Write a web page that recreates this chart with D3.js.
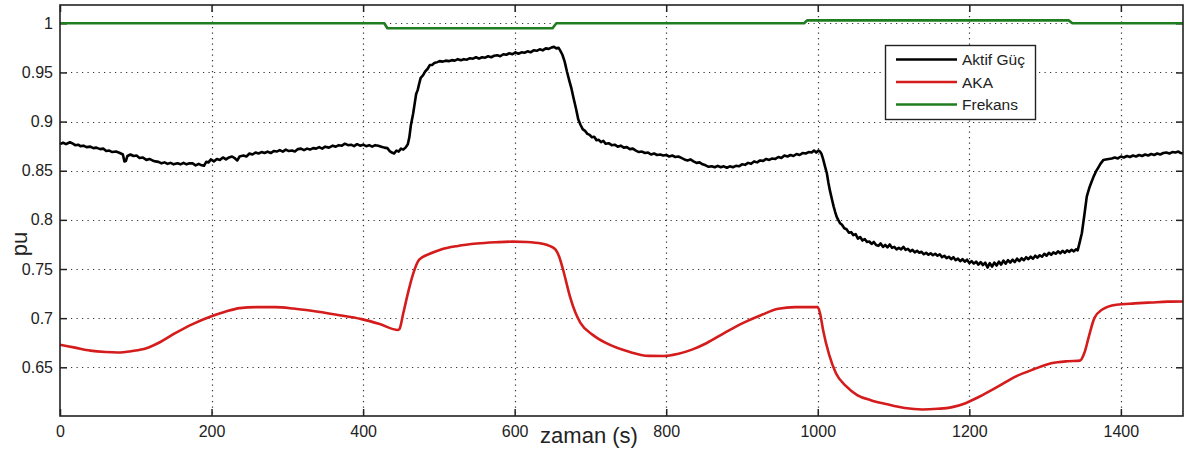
<!DOCTYPE html>
<html><head><meta charset="utf-8">
<script src="https://cdn.jsdelivr.net/npm/d3@7"></script>
<style>
html,body{margin:0;padding:0;background:#fff;}
svg{display:block;font-family:"Liberation Sans",Arial,sans-serif;}
</style></head>
<body><svg id="chart" width="1186" height="455"></svg>
<script>
// ---- data ----
const xTicks = [0, 200, 400, 600, 800, 1000, 1200, 1400];
const yTicks = [0.65, 0.7, 0.75, 0.8, 0.85, 0.9, 0.95, 1];
const yTickLabels = ["0.65", "0.7", "0.75", "0.8", "0.85", "0.9", "0.95", "1"];
const seriesNames = ["Aktif Güç", "AKA", "Frekans"];
const xLabel = "zaman (s)";
const yLabel = "pu";

const aktifGuc = [[0,0.877],[4,0.8785],[8,0.877],[13,0.879],[17,0.8775],[20,0.876],[24,0.8765],[27,0.875],[31,0.8755],[35,0.874],[40,0.8745],[44,0.873],[48,0.8735],[53,0.872],[57,0.8725],[61,0.870],[65,0.8705],[69,0.869],[74,0.8695],[79,0.868],[83,0.8665],[85,0.8595],[87,0.860],[89,0.865],[93,0.8665],[97,0.865],[101,0.8655],[105,0.863],[109,0.8635],[114,0.861],[118,0.862],[122,0.8605],[126,0.8595],[130,0.859],[134,0.8575],[138,0.8585],[142,0.857],[146,0.858],[150,0.8565],[155,0.8575],[159,0.8565],[163,0.858],[167,0.8565],[171,0.8575],[175,0.8575],[179,0.8555],[183,0.857],[187,0.8555],[190,0.855],[193,0.859],[196,0.8585],[199,0.8615],[203,0.8595],[207,0.862],[211,0.861],[215,0.8635],[219,0.8615],[223,0.8635],[227,0.8645],[231,0.8625],[234,0.8605],[237,0.8645],[242,0.8655],[246,0.8645],[250,0.8675],[254,0.8665],[258,0.8685],[262,0.8675],[266,0.869],[270,0.868],[274,0.8695],[278,0.868],[282,0.870],[286,0.8695],[290,0.871],[294,0.8695],[298,0.8715],[302,0.870],[306,0.8705],[310,0.8695],[314,0.872],[318,0.8725],[322,0.871],[326,0.8725],[330,0.8715],[334,0.873],[338,0.8725],[342,0.874],[346,0.8725],[350,0.8745],[355,0.8735],[360,0.8755],[364,0.8745],[368,0.876],[372,0.8755],[376,0.8775],[380,0.876],[384,0.8765],[388,0.875],[392,0.877],[396,0.8755],[400,0.8765],[404,0.875],[408,0.876],[412,0.8745],[416,0.876],[420,0.8755],[424,0.8745],[428,0.8735],[432,0.873],[435,0.870],[438,0.8685],[441,0.8675],[444,0.8705],[447,0.8695],[450,0.8725],[453,0.8715],[456,0.8735],[459,0.877],[461,0.884],[463,0.896],[466,0.908],[468,0.918],[470,0.928],[472,0.932],[474,0.9385],[476,0.9445],[479,0.947],[482,0.951],[485,0.9535],[488,0.9575],[491,0.9575],[494,0.9595],[498,0.9605],[501,0.9615],[505,0.961],[509,0.962],[513,0.9615],[517,0.9625],[521,0.962],[525,0.9635],[529,0.9625],[533,0.9635],[537,0.963],[541,0.9645],[545,0.964],[549,0.9655],[553,0.964],[557,0.9655],[561,0.965],[565,0.9665],[569,0.9655],[573,0.967],[577,0.9675],[581,0.9665],[585,0.9685],[589,0.968],[593,0.9695],[597,0.9685],[601,0.9705],[605,0.969],[609,0.9705],[613,0.970],[617,0.9715],[621,0.9705],[625,0.9725],[629,0.972],[633,0.9735],[637,0.9725],[641,0.9745],[645,0.974],[649,0.9755],[652,0.976],[655,0.9745],[658,0.975],[660,0.9725],[663,0.968],[666,0.961],[669,0.951],[672,0.942],[675,0.9335],[678,0.923],[681,0.913],[684,0.902],[687,0.8965],[690,0.892],[693,0.8905],[696,0.8875],[699,0.8865],[702,0.884],[705,0.8845],[708,0.881],[711,0.8815],[714,0.879],[717,0.8805],[720,0.8775],[724,0.878],[728,0.876],[732,0.8765],[736,0.8745],[740,0.8755],[744,0.8735],[748,0.874],[752,0.872],[756,0.8725],[760,0.8705],[764,0.869],[768,0.8695],[772,0.868],[776,0.8685],[780,0.8665],[784,0.8675],[788,0.866],[792,0.8665],[796,0.8655],[800,0.866],[804,0.8645],[808,0.8655],[812,0.864],[816,0.8645],[820,0.863],[824,0.8615],[828,0.8605],[832,0.8615],[836,0.8595],[840,0.858],[844,0.8585],[848,0.8565],[852,0.8555],[856,0.854],[860,0.8545],[864,0.8535],[868,0.855],[872,0.8535],[876,0.8545],[880,0.853],[884,0.8545],[888,0.8535],[892,0.855],[896,0.8545],[900,0.8565],[904,0.856],[908,0.858],[912,0.857],[916,0.8595],[920,0.8585],[924,0.8605],[928,0.86],[932,0.862],[936,0.861],[940,0.8625],[944,0.862],[948,0.864],[952,0.863],[956,0.8655],[960,0.8645],[964,0.866],[968,0.865],[972,0.867],[976,0.866],[980,0.868],[984,0.8675],[988,0.869],[992,0.8685],[995,0.8705],[998,0.8685],[1001,0.8705],[1003,0.8695],[1005,0.867],[1007,0.862],[1009,0.856],[1012,0.8474],[1014,0.838],[1016,0.830],[1019,0.82],[1021,0.8135],[1023,0.808],[1025,0.803],[1027,0.800],[1029.5,0.7965],[1032,0.795],[1035,0.7915],[1038,0.7905],[1041,0.787],[1044,0.7875],[1047,0.7845],[1050,0.7855],[1053,0.781],[1056,0.7825],[1059,0.779],[1062,0.7805],[1065,0.7775],[1068,0.778],[1071,0.7755],[1074,0.7775],[1077,0.7745],[1080,0.7735],[1083,0.776],[1086,0.7725],[1089,0.7745],[1092,0.772],[1095,0.775],[1098,0.7715],[1101,0.7725],[1104,0.770],[1107,0.7715],[1110,0.770],[1113,0.7725],[1116,0.7695],[1119,0.7705],[1122,0.768],[1125,0.7695],[1128,0.767],[1131,0.7685],[1134,0.7665],[1137,0.7675],[1140,0.765],[1143,0.7665],[1146,0.7645],[1149,0.766],[1152,0.764],[1155,0.7655],[1158,0.7635],[1161,0.765],[1164,0.762],[1167,0.7635],[1170,0.761],[1173,0.7625],[1176,0.760],[1179,0.762],[1182,0.759],[1185,0.7605],[1188,0.758],[1191,0.760],[1194,0.7575],[1197,0.7595],[1200,0.756],[1203,0.758],[1206,0.7555],[1209,0.7575],[1212,0.7545],[1215,0.757],[1218,0.754],[1221,0.7565],[1224,0.7515],[1227,0.756],[1230,0.7525],[1233,0.7565],[1236,0.7535],[1239,0.7575],[1242,0.7545],[1245,0.7585],[1248,0.7555],[1251,0.759],[1254,0.7565],[1257,0.7595],[1260,0.757],[1263,0.7605],[1266,0.758],[1269,0.761],[1272,0.759],[1275,0.762],[1278,0.760],[1281,0.7625],[1284,0.7605],[1287,0.7635],[1290,0.7615],[1293,0.764],[1296,0.7625],[1299,0.7655],[1302,0.7635],[1305,0.7665],[1308,0.7645],[1311,0.767],[1314,0.7655],[1317,0.768],[1320,0.766],[1323,0.7685],[1326,0.7665],[1329,0.769],[1332,0.7675],[1335,0.7695],[1338,0.768],[1341,0.770],[1343,0.769],[1345,0.775],[1348.5,0.7864],[1352,0.806],[1355,0.8237],[1357,0.829],[1359,0.834],[1361,0.838],[1364,0.844],[1367,0.849],[1370,0.853],[1373,0.857],[1377,0.861],[1380,0.8615],[1384,0.862],[1388,0.8625],[1392,0.8635],[1396,0.8625],[1400,0.8645],[1404,0.8635],[1408,0.865],[1412,0.864],[1416,0.8655],[1420,0.8645],[1424,0.866],[1428,0.865],[1432,0.8665],[1436,0.8655],[1440,0.867],[1444,0.866],[1448,0.8675],[1452,0.8665],[1456,0.868],[1460,0.8685],[1464,0.8675],[1468,0.869],[1472,0.8685],[1476,0.8695],[1479,0.868],[1482,0.8675]];

const aka = [[0,0.673],[20,0.670],[40,0.667],[60,0.6655],[76,0.665],[95,0.6665],[114,0.6694],[133,0.676],[152,0.6847],[175,0.694],[199,0.7017],[218,0.7065],[237,0.7102],[260,0.7112],[284,0.7112],[308,0.7098],[332,0.7075],[365,0.7035],[398,0.699],[422,0.694],[446,0.688],[448,0.689],[453,0.705],[460,0.728],[466,0.745],[474,0.7595],[488,0.7655],[502,0.7697],[525,0.7735],[550,0.7759],[575,0.7772],[597,0.7779],[616,0.7775],[635,0.7759],[646,0.7735],[654,0.7697],[659,0.762],[664,0.749],[673,0.722],[680,0.706],[687,0.695],[703,0.683],[721,0.6745],[750,0.666],[777,0.6616],[797,0.6615],[815,0.6636],[834,0.668],[853,0.6745],[877,0.685],[901,0.695],[925,0.703],[948,0.7095],[970,0.7112],[1000,0.7112],[1003,0.705],[1007,0.688],[1015,0.663],[1024,0.644],[1037,0.631],[1052,0.6218],[1070,0.6165],[1090,0.6126],[1115,0.6085],[1138,0.6071],[1158,0.6078],[1176,0.6092],[1195,0.6135],[1213,0.620],[1237,0.630],[1261,0.6405],[1285,0.648],[1308,0.6541],[1330,0.6562],[1346,0.6568],[1352,0.665],[1358,0.682],[1365,0.700],[1375,0.7085],[1394,0.7136],[1418,0.715],[1441,0.716],[1462,0.7168],[1482,0.717]];

const frekans = [[0,1],[428,1],[432,0.995],[650,0.995],[655,1],[982,1],[986,1.003],[1331,1.003],[1336,1],[1482,1]];

const colors = ["#000000", "#d41c1c", "#1f7d1f"];

// ---- layout ----
const svg = d3.select("#chart");
const L = 60, R = 1183, T = 5, B = 416;
const x = d3.scaleLinear().domain([0, 1482]).range([L, R]);
const y = d3.scaleLinear().domain([0.60045, 1.01862]).range([B, T]);

svg.append("rect").attr("x",0).attr("y",0).attr("width",1186).attr("height",455).attr("fill","#fff");

// grid
const grid = svg.append("g").attr("stroke","#333").attr("stroke-width",1.2).attr("stroke-dasharray","1.2,4.3");
grid.selectAll(".gx").data(xTicks.filter(d=>d>0)).enter().append("line")
  .attr("x1",d=>Math.round(x(d))+0.5).attr("x2",d=>Math.round(x(d))+0.5).attr("y1",T).attr("y2",B);
grid.selectAll(".gy").data(yTicks).enter().append("line")
  .attr("y1",d=>Math.round(y(d))+0.5).attr("y2",d=>Math.round(y(d))+0.5).attr("x1",L).attr("x2",R);

// axes with inward ticks
const tickLen = 7;
const axB = svg.append("g").attr("transform",`translate(0,${B})`)
  .call(d3.axisBottom(x).tickValues(xTicks).tickSizeInner(-tickLen).tickSizeOuter(0).tickPadding(10).tickFormat(d3.format("d")));
const axT = svg.append("g").attr("transform",`translate(0,${T})`)
  .call(d3.axisTop(x).tickValues(xTicks).tickSizeInner(-tickLen).tickSizeOuter(0).tickFormat(""));
const axL = svg.append("g").attr("transform",`translate(${L},0)`)
  .call(d3.axisLeft(y).tickValues(yTicks).tickSizeInner(-tickLen).tickSizeOuter(0).tickPadding(7).tickFormat((d,i)=>yTickLabels[i]));
const axR = svg.append("g").attr("transform",`translate(${R},0)`)
  .call(d3.axisRight(y).tickValues(yTicks).tickSizeInner(-tickLen).tickSizeOuter(0).tickFormat(""));
[axB,axT,axL,axR].forEach(a=>{
  a.select(".domain").remove();
  a.selectAll(".tick line").attr("stroke","#222").attr("stroke-width",1.5);
  a.selectAll("text").attr("fill","#222").attr("font-size",16).attr("font-family","'Liberation Sans',Arial,sans-serif");
});

// series
const line = d3.line().x(d=>x(d[0])).y(d=>y(d[1]));
const lineSmooth = d3.line().x(d=>x(d[0])).y(d=>y(d[1])).curve(d3.curveMonotoneX);
svg.append("path").datum(aktifGuc).attr("d",line).attr("fill","none").attr("stroke",colors[0]).attr("stroke-width",2.6).attr("stroke-linejoin","round");
svg.append("path").datum(aka).attr("d",lineSmooth).attr("fill","none").attr("stroke",colors[1]).attr("stroke-width",2.6).attr("stroke-linejoin","round");
svg.append("path").datum(frekans).attr("d",line).attr("fill","none").attr("stroke",colors[2]).attr("stroke-width",2.6).attr("stroke-linejoin","round");

// frame
svg.append("rect").attr("x",L).attr("y",T).attr("width",R-L).attr("height",B-T)
  .attr("fill","none").attr("stroke","#222").attr("stroke-width",1.6);

// labels
svg.append("text").attr("x",589).attr("y",443).attr("text-anchor","middle")
  .attr("font-size",22).attr("fill","#222").text(xLabel);
svg.append("text").attr("transform","translate(27,244) rotate(-90)").attr("text-anchor","middle")
  .attr("font-size",22).attr("fill","#222").text(yLabel);

// legend
const lg = svg.append("g");
lg.append("rect").attr("x",885.5).attr("y",45.5).attr("width",150).attr("height",74)
  .attr("fill","#fff").attr("stroke","#222").attr("stroke-width",1.4);
seriesNames.forEach((n,i)=>{
  const yy = 59.5 + i*22.5;
  lg.append("line").attr("x1",896).attr("x2",957).attr("y1",yy).attr("y2",yy)
    .attr("stroke",colors[i]).attr("stroke-width",2.6);
  lg.append("text").attr("x",962).attr("y",yy+5.5).attr("font-size",15.5).attr("fill","#222").text(n);
});
</script></body></html>
